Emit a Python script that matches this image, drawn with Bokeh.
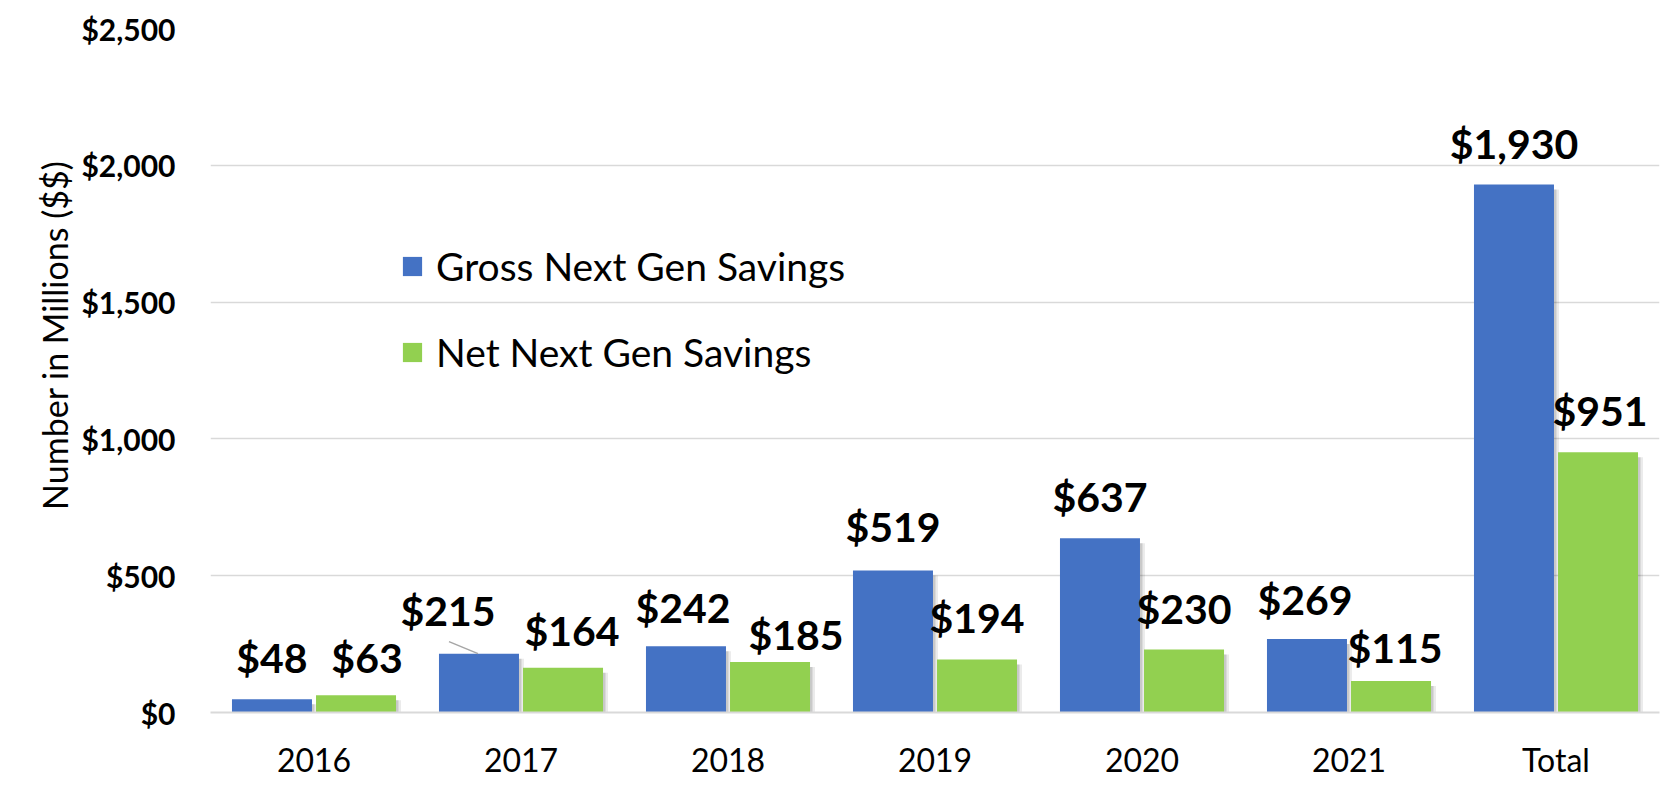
from bokeh.plotting import figure
from bokeh.models import (FactorRange, Range1d, FixedTicker, NumeralTickFormatter,
                          ColumnDataSource, Legend, LegendItem, Title, BoxAnnotation)
from bokeh.transform import dodge
from bokeh.core.properties import value
from bokeh.embed import file_html
from bokeh.resources import INLINE

# ---------------- data ----------------
categories = ["2016", "2017", "2018", "2019", "2020", "2021", "Total"]
gross = [48, 215, 242, 519, 637, 269, 1930]
net = [63, 164, 185, 194, 230, 115, 951]
y_ticks = [0, 500, 1000, 1500, 2000, 2500]
series_names = ["Gross Next Gen Savings", "Net Next Gen Savings"]
y_title = "Number in Millions ($$)"

# label nudges (screen px), layout only
gross_dx = [0, -31, -3, 0, 0, -2, 0]
gross_dy = [-42, -43, -39, -44, -42, -39, -41]
net_dx = [11, 9, 26, 0, 0, 4, 2]
net_dy = [-38, -37, -27, -42, -41, -34, -42]

BLUE = "#4472C4"
GREEN = "#92D050"
FONT = "Lato"

W, H = 1666, 787
PX_PER_CAT = 207.0
PX_PER_UNIT = 684.0 / 2500.0
OFF = 0.203
BW = 0.3865

p = figure(width=W, height=H,
           x_range=FactorRange(*categories, range_padding=0),
           y_range=Range1d(0, 2500),
           output_backend="svg", toolbar_location=None,
           min_border_left=210, min_border_right=W - 1659,
           min_border_top=28, min_border_bottom=H - 712)
p.outline_line_color = None
p.background_fill_color = "white"
p.border_fill_color = "white"

def fmt(v):
    return "$" + format(v, ",")

src_g = ColumnDataSource(dict(cat=categories, val=gross, label=[fmt(v) for v in gross],
                              dx=gross_dx, dy=gross_dy,
                              shadow=[v - 5 / PX_PER_UNIT for v in gross]))
src_n = ColumnDataSource(dict(cat=categories, val=net, label=[fmt(v) for v in net],
                              dx=net_dx, dy=net_dy,
                              shadow=[v - 5 / PX_PER_UNIT for v in net]))

# soft drop shadows
for src, off in ((src_g, -OFF), (src_n, OFF)):
    p.vbar(x=dodge("cat", off + 5 / PX_PER_CAT, range=p.x_range), top="shadow", width=BW,
           source=src, fill_color="black", fill_alpha=0.08, line_color=None)
    p.vbar(x=dodge("cat", off + 2.5 / PX_PER_CAT, range=p.x_range), top="shadow", width=BW,
           source=src, fill_color="black", fill_alpha=0.14, line_color=None)

rb = p.vbar(x=dodge("cat", -OFF, range=p.x_range), top="val", width=BW, source=src_g,
            fill_color=BLUE, line_color=None)
rg = p.vbar(x=dodge("cat", OFF, range=p.x_range), top="val", width=BW, source=src_n,
            fill_color=GREEN, line_color=None)

for src, off in ((src_g, -OFF), (src_n, OFF)):
    p.text(x=dodge("cat", off, range=p.x_range), y="val", text="label",
           x_offset="dx", y_offset="dy", source=src,
           text_align="center", text_baseline="alphabetic",
           text_font=value(FONT), text_font_style="bold", text_font_size="41px",
           text_color="black")

# leader line for the 2017 gross label
lead = ColumnDataSource(dict(cat=[categories[1]], y0=[gross[1] + 12 / PX_PER_UNIT], y1=[gross[1]]))
p.segment(x0=dodge("cat", -OFF - 30 / PX_PER_CAT, range=p.x_range), y0="y0",
          x1=dodge("cat", -OFF - 1 / PX_PER_CAT, range=p.x_range), y1="y1",
          source=lead, line_color="#A6A6A6", line_width=1.5)

# axes
p.yaxis.ticker = FixedTicker(ticks=y_ticks)
p.yaxis.formatter = NumeralTickFormatter(format="$0,0")
p.yaxis.major_label_text_font = FONT
p.yaxis.major_label_text_font_style = "bold"
p.yaxis.major_label_text_font_size = "30px"
p.yaxis.major_label_text_color = "black"
p.yaxis.major_label_standoff = 29
p.yaxis.axis_line_color = None
p.yaxis.major_tick_line_color = None
p.yaxis.minor_tick_line_color = None

p.add_layout(Title(text=y_title, align="right", offset=132, standoff=8,
                   text_font=FONT, text_font_style="normal", text_font_size="34px",
                   text_color="black"), "left")

p.xaxis.major_label_text_font = FONT
p.xaxis.major_label_text_font_size = "32px"
p.xaxis.major_label_text_color = "black"
p.xaxis.major_label_standoff = 21
p.xaxis.axis_line_color = "#D9D9D9"
p.xaxis.axis_line_width = 2
p.xaxis.major_tick_line_color = None
p.xaxis.minor_tick_line_color = None

p.xgrid.grid_line_color = None
p.ygrid.grid_line_color = "#D9D9D9"
p.ygrid.grid_line_width = 1.5

legend = Legend(items=[LegendItem(label=series_names[0], renderers=[rb]),
                       LegendItem(label=series_names[1], renderers=[rg])],
                location=(190, 337), orientation="vertical",
                glyph_width=24, glyph_height=24, label_standoff=12,
                label_text_font=FONT, label_text_font_size="39px",
                label_text_color="black",
                spacing=40, padding=0, margin=0,
                border_line_color=None, background_fill_alpha=0)
p.add_layout(legend)

# chart-area frame decorations (canvas pixels)
def canvas_box(l, r, t, b, color):
    p.add_layout(BoxAnnotation(left=l, right=r, top=t, bottom=b,
                               left_units="canvas", right_units="canvas",
                               top_units="canvas", bottom_units="canvas",
                               fill_color=color, fill_alpha=1, line_color=None,
                               level="overlay"))

canvas_box(0, W, 777, H, "#F6F6F2")          # pale strip below the chart
canvas_box(14, 16, 6, 777, "#D9D9D9")        # left edge
canvas_box(14, 1661, 6, 8, "#D9D9D9")        # top edge
canvas_box(1661, 1665, 0, H, "#707070")      # dark right edge

open("out.html", "w").write(file_html(p, INLINE))
